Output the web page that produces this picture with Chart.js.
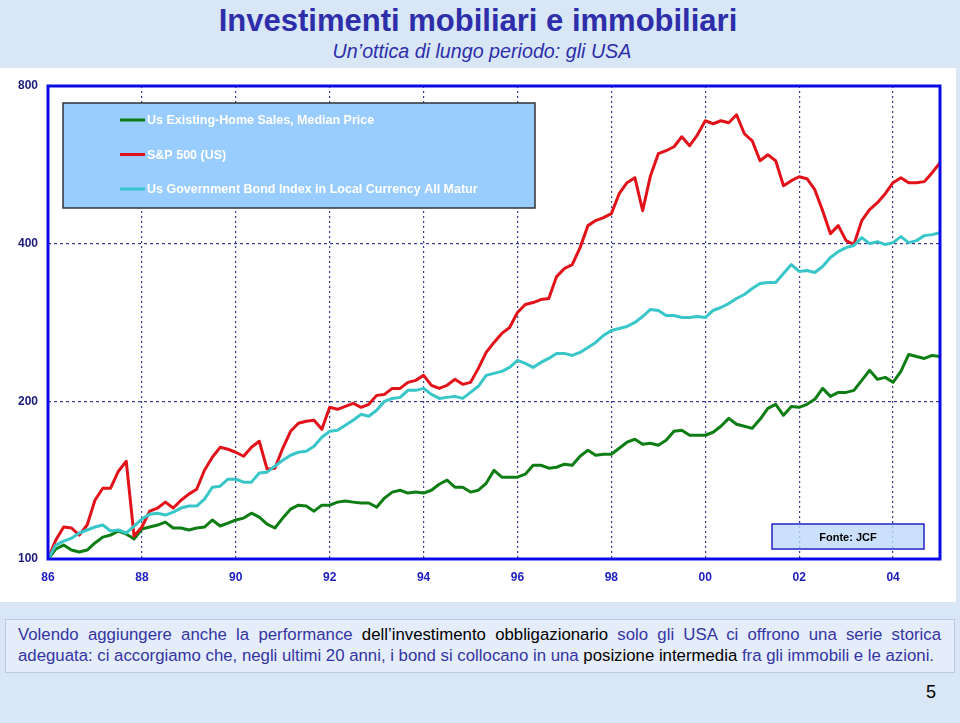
<!DOCTYPE html>
<html lang="it">
<head>
<meta charset="utf-8">
<title>Investimenti mobiliari e immobiliari</title>
<script src="https://cdn.jsdelivr.net/npm/chart.js@4.4.0/dist/chart.umd.min.js"></script>
<style>
  html, body { margin: 0; padding: 0; }
  body {
    width: 960px; height: 723px; position: relative; overflow: hidden;
    background: #d8e6f6;
    font-family: "Liberation Sans", Arial, sans-serif;
  }
  #title {
    position: absolute; top: 3px; left: -2px; width: 960px; text-align: center;
    color: #2e2eaa; font: bold 31px "Liberation Sans", Arial, sans-serif;
  }
  #subtitle {
    position: absolute; top: 40px; left: 2px; width: 960px; text-align: center;
    color: #2e2eaa; font: italic 19.7px "Liberation Sans", Arial, sans-serif;
  }
  #panel { position: absolute; left: 0; top: 68px; width: 956px; height: 534px; background: #fff; }
  #chart { position: absolute; left: 0; top: 68px; }
  #note {
    position: absolute; left: 5px; top: 619px; width: 948px; height: 52px;
    border: 1px solid #b9c9e2; background: rgba(255,255,255,0.3);
    color: #3535a5; font-size: 16.8px; line-height: 21px;
  }
  #note .l1 { position: absolute; left: 12px; top: 4px; width: 923px; text-align: justify; text-align-last: justify; white-space: nowrap; }
  #note .l2 { position: absolute; left: 12px; top: 25px; width: 936px; text-align: left; white-space: nowrap; }
  #note b { font-weight: normal; color: #000; }
  #page { position: absolute; left: 926px; top: 682px; font-size: 18px; color: #000; }
</style>
</head>
<body>
<div id="title">Investimenti mobiliari e immobiliari</div>
<div id="subtitle">Un’ottica di lungo periodo: gli USA</div>
<div id="panel"></div>
<canvas id="chart" width="960" height="540"></canvas>
<div id="note">
  <div class="l1">Volendo aggiungere anche la performance <b>dell’investimento obbligazionario</b> solo gli USA ci offrono una serie storica</div>
  <div class="l2">adeguata: ci accorgiamo che, negli ultimi 20 anni, i bond si collocano in una <b>posizione intermedia</b> fra gli immobili e le azioni.</div>
</div>
<div id="page">5</div>
<script>
// sample dates: every two months, Jan 1986 -> Jan 2005
const dates = Array.from({ length: 115 }, (_, i) => 1986 + i / 6);

const xTickYears = [1986, 1988, 1990, 1992, 1994, 1996, 1998, 2000, 2002, 2004];
const yTicks = [100, 200, 400, 800];

// index values, base 100 = Jan 1986
const homePrices = [
  100, 104.5, 106.3, 104.0, 103.1, 104.0, 107.3, 110.1, 111.1, 113.1, 111.6, 109.2,
  114.1, 115.1, 116.1, 117.6, 114.6, 114.6, 113.6, 114.6, 115.1, 118.7, 115.6, 117.1,
  118.7, 119.7, 122.3, 120.2, 116.6, 114.6, 119.7, 124.5, 126.7, 126.2, 123.4, 126.7,
  126.7, 128.4, 129.0, 128.4, 127.9, 127.9, 125.6, 130.7, 134.2, 135.3, 133.6, 134.2,
  133.6, 135.3, 138.9, 141.4, 137.1, 137.1, 134.2, 135.3, 139.5, 147.7, 143.3, 143.3,
  143.3, 145.2, 151.0, 151.0, 149.1, 149.7, 151.7, 151.0, 157.1, 161.3, 157.8, 158.5,
  158.5, 162.7, 167.1, 169.3, 165.6, 166.3, 164.9, 168.6, 175.3, 176.1, 172.3, 172.3,
  172.3, 174.6, 179.2, 185.6, 180.8, 179.2, 177.6, 184.8, 193.9, 197.4, 188.1, 195.6,
  194.8, 197.4, 201.8, 211.7, 204.4, 208.0, 208.0, 209.9, 219.3, 229.2, 220.3, 222.2,
  217.4, 228.2, 245.8, 243.5, 241.5, 244.7, 243.5
];

const sp500 = [
  100, 108.7, 115.1, 114.6, 111.1, 116.1, 129.5, 136.5, 136.5, 147.1, 153.7, 110.6,
  115.1, 123.4, 125.1, 128.4, 125.1, 129.5, 133.0, 135.9, 147.7, 156.4, 163.4, 162.0,
  159.9, 157.1, 163.4, 167.8, 148.4, 149.1, 162.7, 175.3, 181.6, 183.2, 184.0, 176.9,
  194.8, 193.1, 195.6, 198.3, 194.8, 197.4, 205.3, 206.2, 211.7, 211.7, 217.4, 219.3,
  224.2, 214.6, 211.7, 214.6, 220.3, 215.5, 217.4, 231.2, 248.0, 259.1, 269.6, 276.7,
  295.6, 306.1, 308.8, 312.9, 314.3, 346.1, 358.6, 364.9, 393.1, 433.0, 442.7, 448.5,
  456.4, 498.3, 523.0, 534.6, 462.5, 539.3, 594.0, 601.9, 612.5, 640.0, 615.2, 645.6,
  686.6, 677.6, 686.6, 680.6, 704.9, 648.5, 628.8, 576.0, 591.4, 576.0, 516.1, 527.6,
  536.9, 532.2, 507.2, 462.5, 418.0, 433.0, 405.4, 398.4, 442.7, 464.5, 479.0, 498.3,
  523.0, 534.6, 523.0, 523.0, 525.4, 546.5, 571.0
];

const govBonds = [
  100, 106.3, 108.2, 109.6, 112.1, 113.6, 115.1, 116.1, 113.1, 113.6, 112.1, 115.6,
  119.2, 121.8, 122.3, 121.3, 122.9, 125.1, 126.2, 126.2, 130.1, 137.1, 137.7, 142.0,
  142.0, 140.2, 140.2, 145.9, 146.5, 150.4, 154.4, 157.8, 159.9, 160.6, 164.2, 170.8,
  175.3, 176.1, 180.0, 184.0, 188.9, 187.3, 192.3, 200.0, 202.6, 203.5, 209.9, 209.9,
  211.7, 206.2, 202.6, 203.5, 204.4, 202.6, 208.0, 213.7, 224.2, 226.2, 228.2, 232.2,
  239.4, 236.3, 232.2, 237.3, 241.5, 246.9, 246.9, 244.7, 248.0, 253.5, 259.1, 267.2,
  273.1, 275.5, 277.9, 282.9, 290.4, 299.5, 298.2, 291.7, 291.7, 289.1, 289.1, 290.4,
  289.1, 298.2, 302.1, 307.4, 314.3, 319.9, 328.4, 335.7, 337.2, 337.2, 350.7, 364.9,
  354.1, 355.6, 352.4, 361.7, 376.3, 386.3, 393.1, 396.7, 410.8, 400.0, 403.5, 398.4,
  401.8, 412.6, 401.8, 405.4, 414.4, 416.2, 419.9
];

const seriesNames = [
  "Us Existing-Home Sales, Median Price",
  "S&P 500 (US)",
  "Us Government Bond Index in Local Currency All Matur"
];

const toPoints = (vals) => vals.map((v, i) => ({ x: dates[i], y: v }));

// legend box drawn inside the plot, like the original
const legendBox = {
  id: "legendBox",
  afterDatasetsDraw(chart) {
    const { ctx, chartArea } = chart;
    const x = chartArea.left + 15, y = chartArea.top + 17, w = 472, h = 105;
    ctx.save();
    ctx.fillStyle = "#99ccff";
    ctx.fillRect(x, y, w, h);
    ctx.lineWidth = 1.5;
    ctx.strokeStyle = "#333";
    ctx.strokeRect(x, y, w, h);
    chart.data.datasets.forEach((ds, i) => {
      const ly = y + 17 + i * 34.5;
      ctx.strokeStyle = ds.borderColor;
      ctx.lineWidth = 3;
      ctx.beginPath();
      ctx.moveTo(x + 57, ly);
      ctx.lineTo(x + 82, ly);
      ctx.stroke();
      ctx.fillStyle = "#fff";
      ctx.font = 'bold 12.5px "Liberation Sans", Arial, sans-serif';
      ctx.textBaseline = "middle";
      ctx.fillText(ds.label, x + 84, ly + 1);
    });
    ctx.restore();
  }
};

// source box (under the grid) + thick plot frame
const frame = {
  id: "frame",
  beforeDatasetsDraw(chart) {
    const { ctx, chartArea } = chart;
    const w = 152, h = 25;
    const x = chartArea.right - 16 - w, y = chartArea.bottom - 10 - h;
    ctx.save();
    ctx.fillStyle = "rgba(190, 218, 250, 0.8)";
    ctx.fillRect(x, y, w, h);
    ctx.lineWidth = 1.5;
    ctx.strokeStyle = "#2323c8";
    ctx.strokeRect(x, y, w, h);
    ctx.fillStyle = "#000";
    ctx.font = 'bold 11px "Liberation Sans", Arial, sans-serif';
    ctx.textAlign = "center";
    ctx.textBaseline = "middle";
    ctx.fillText("Fonte: JCF", x + w / 2, y + h / 2 + 1);
    ctx.restore();
  },
  afterDraw(chart) {
    const { ctx, chartArea } = chart;
    ctx.save();
    ctx.lineWidth = 3;
    ctx.strokeStyle = "#0a0ae6";
    ctx.strokeRect(chartArea.left, chartArea.top, chartArea.right - chartArea.left, chartArea.bottom - chartArea.top);
    ctx.restore();
  }
};

new Chart(document.getElementById("chart"), {
  type: "line",
  data: {
    datasets: [
      { label: seriesNames[0], data: toPoints(homePrices), borderColor: "#0e7d14", order: 2 },
      { label: seriesNames[1], data: toPoints(sp500), borderColor: "#e2121b", order: 1 },
      { label: seriesNames[2], data: toPoints(govBonds), borderColor: "#38c6c8", order: 0 }
    ]
  },
  options: {
    responsive: false,
    animation: false,
    elements: {
      line: { borderWidth: 3, tension: 0, borderJoinStyle: "round" },
      point: { radius: 0 }
    },
    layout: { padding: { top: 18, right: 20, left: 0, bottom: 0 } },
    plugins: { legend: { display: false }, tooltip: { enabled: false } },
    scales: {
      x: {
        type: "linear",
        min: 1986,
        max: 2005,
        afterBuildTicks: (scale) => { scale.ticks = xTickYears.map(v => ({ value: v })); },
        afterFit: (scale) => { scale.height = 49; },
        ticks: {
          callback: (v) => String(v).slice(2),
          color: "#2020c0",
          font: { family: '"Liberation Sans", Arial, sans-serif', size: 12, weight: "bold" },
          padding: 11,
          maxRotation: 0
        },
        grid: { color: "#3a3a96", lineWidth: 1.2, drawTicks: false },
        border: { display: false, dash: [2, 3] }
      },
      y: {
        type: "logarithmic",
        min: 100,
        max: 800,
        afterBuildTicks: (scale) => { scale.ticks = yTicks.map(v => ({ value: v })); },
        afterFit: (scale) => { scale.width = 48; },
        ticks: {
          callback: (v) => String(v),
          color: "#1c1c78",
          font: { family: '"Liberation Sans", Arial, sans-serif', size: 12, weight: "bold" },
          padding: 10
        },
        grid: { color: "#3a3a96", lineWidth: 1.2, drawTicks: false },
        border: { display: false, dash: [3, 3] }
      }
    }
  },
  plugins: [frame, legendBox]
});
</script>
</body>
</html>
